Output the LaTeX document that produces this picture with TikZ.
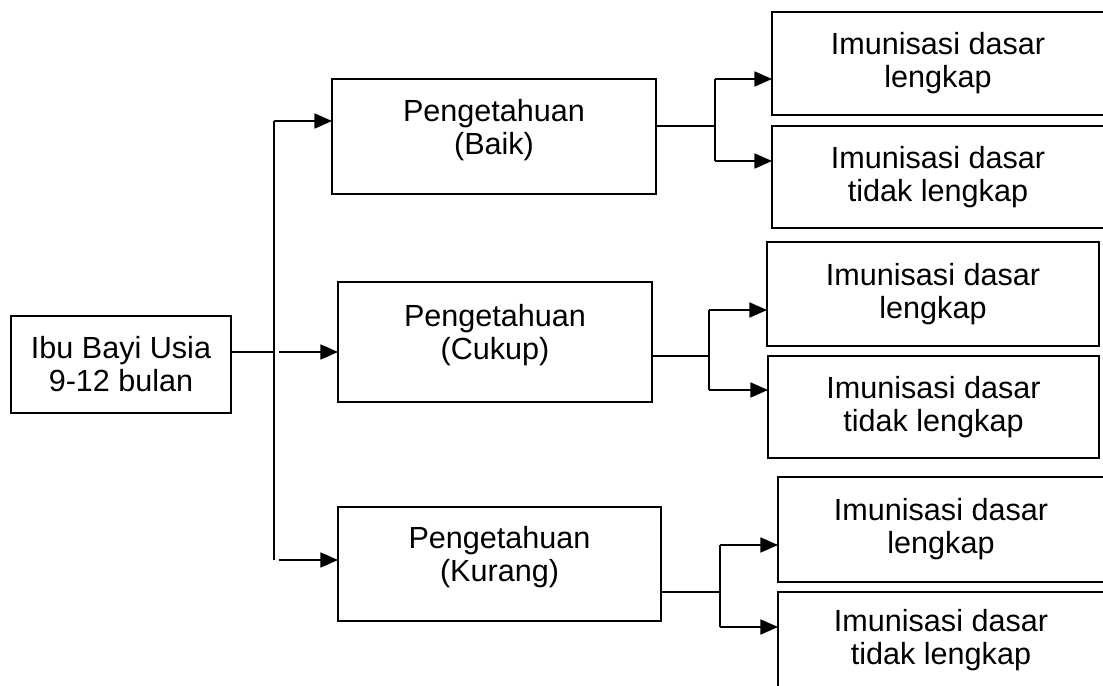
\documentclass[tikz,border=0pt]{standalone}
\usepackage{fontspec}
\setmainfont{Liberation Sans}
\usetikzlibrary{arrows.meta}
\tikzset{
  >={Triangle[length=10pt,width=8.5pt]},
}
\tikzstyle{every node}=[font=\fontsize{17.4}{18.8}\selectfont]
\tikzstyle{box}=[draw, line width=1.1pt, inner sep=0pt, outer sep=0pt, align=center]
\tikzstyle{level}=[box, text depth=11pt]
\tikzstyle{arr}=[->]

\begin{document}
\begin{tikzpicture}[x=0.02cm, y=-0.02cm, line width=1.1pt]
    \useasboundingbox (0,0) rectangle (1103,686);
    % root and knowledge levels
    \node[box, minimum width=4.40cm, minimum height=1.94cm] (ibu) at (121,364.5) {Ibu Bayi Usia\\9-12 bulan};
    \node[level, minimum width=6.48cm, minimum height=2.30cm] (baik) at (494,136.5) {Pengetahuan\\(Baik)};
    \node[level, minimum width=6.28cm, minimum height=2.40cm] (cukup) at (495,342) {Pengetahuan\\(Cukup)};
    \node[level, minimum width=6.46cm, minimum height=2.28cm] (kurang) at (499.5,564) {Pengetahuan\\(Kurang)};
    % outcomes
    \node[box, minimum width=6.64cm, minimum height=2.06cm] (baikL) at (938,63.5) {Imunisasi dasar\\lengkap};
    \node[box, minimum width=6.64cm, minimum height=2.04cm] (baikTL) at (938,177) {Imunisasi dasar\\tidak lengkap};
    \node[box, minimum width=6.64cm, minimum height=2.08cm] (cukupL) at (933,294) {Imunisasi dasar\\lengkap};
    \node[box, minimum width=6.62cm, minimum height=2.04cm] (cukupTL) at (933.5,407) {Imunisasi dasar\\tidak lengkap};
    \node[box, minimum width=6.52cm, minimum height=2.10cm] (kurangL) at (941,529.5) {Imunisasi dasar\\lengkap};
    \node[box, minimum width=6.52cm, minimum height=1.92cm] (kurangTL) at (941,640) {Imunisasi dasar\\tidak lengkap};

    % left branching
    \coordinate (sT) at (274,121);
    \coordinate (sM) at (274,352);
    \coordinate (sB) at (274,560);
    \coordinate (aM) at (279,352);
    \coordinate (aB) at (279,560);
    \draw (sT)--(sB);
    \draw (ibu.east |- sM)--(sM);
    \draw[arr] (sT)--(sT -| baik.west);
    \draw[arr] (aM)--(aM -| cukup.west);
    \draw[arr] (aB)--(aB -| kurang.west);

    % right branching
    \coordinate (jb) at (715,126);
    \coordinate (jb1) at (715,79);
    \coordinate (jb2) at (715,161);
    \draw (baik.east |- jb)--(jb);
    \draw (jb1)--(jb2);
    \draw[arr] (jb1)--(jb1 -| baikL.west);
    \draw[arr] (jb2)--(jb2 -| baikTL.west);

    \coordinate (jc) at (709,356);
    \coordinate (jc1) at (709,310);
    \coordinate (jc2) at (709,390);
    \draw (cukup.east |- jc)--(jc);
    \draw (jc1)--(jc2);
    \draw[arr] (jc1)--(jc1 -| cukupL.west);
    \draw[arr] (jc2)--(jc2 -| cukupTL.west);

    \coordinate (jk) at (720,592);
    \coordinate (jk1) at (720,545);
    \coordinate (jk2) at (720,627);
    \draw (kurang.east |- jk)--(jk);
    \draw (jk1)--(jk2);
    \draw[arr] (jk1)--(jk1 -| kurangL.west);
    \draw[arr] (jk2)--(jk2 -| kurangTL.west);
\end{tikzpicture}
\end{document}
